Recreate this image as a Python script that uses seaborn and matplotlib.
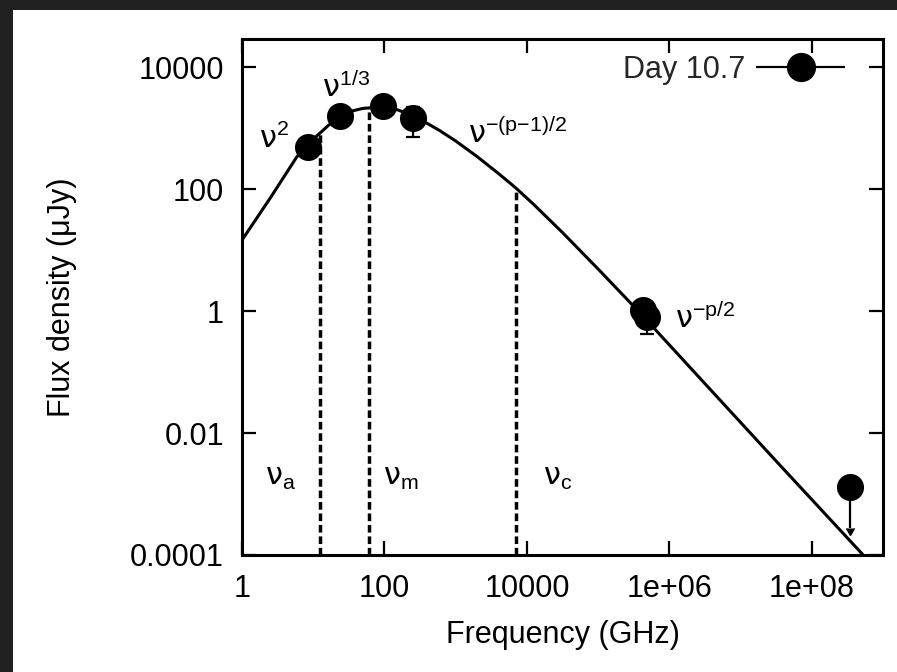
import numpy as np
import pandas as pd
import matplotlib
matplotlib.use("Agg")
import matplotlib.pyplot as plt
import seaborn as sns
from matplotlib.container import ErrorbarContainer
from matplotlib.legend_handler import HandlerErrorbar
from matplotlib.patches import Rectangle

# ---------------- data ----------------
curve_nu = [1.0, 2.51, 5.85, 8.43, 11.8, 16.3, 23.7, 34.5, 50.1, 86.1, 154, 250,
            410, 598, 1000, 1995, 3981, 6966, 12589, 32063, 1.0e5, 2.77e5,
            5.87e5, 3.16e6, 3.16e7, 5.27e8]
curve_flux = [14.6, 72.4, 335, 556, 785, 1109, 1531, 1905, 2113, 2213, 1995, 1585,
              1175, 912, 617, 343, 181, 105, 55.6, 19.1, 4.90, 1.41,
              0.550, 0.0646, 0.00347, 1.0e-4]

dot_nu = [8.43, 23.7, 95, 250, 4.2e5, 4.8e5]
dot_flux = [489, 1574, 2296, 1459, 1.04, 0.80]
dot_err = [60, 150, 200, 739, 0.1, 0.38]

ul_nu = [3.4e8]
ul_flux = [0.00129]
ul_drop = [0.00101]

break_nu = [12.4, 60.4, 6970]
break_flux = [800, 2100, 105]
break_names = ["a", "m", "c"]

xticks = [1, 100, 1e4, 1e6, 1e8]
xtick_labels = ["1", "100", "10000", "1e+06", "1e+08"]
yticks = [1e-4, 1e-2, 1, 100, 1e4]
ytick_labels = ["0.0001", "0.01", "1", "100", "10000"]

legend_label = "Day 10.7"
xlabel = "Frequency (GHz)"
ylabel = "Flux density (\u03bcJy)"

# ---------------- style ----------------
sns.set_theme(style="ticks")
plt.rcParams["font.family"] = ["Liberation Sans", "DejaVu Sans"]
plt.rcParams["mathtext.fontset"] = "dejavusans"
plt.rcParams["mathtext.default"] = "regular"
plt.rcParams["axes.unicode_minus"] = True

FS = 22
W, H = 897, 672
fig = plt.figure(figsize=(W / 100, H / 100), dpi=100, facecolor="#212121")
fig.add_artist(Rectangle((13 / W, 0), 1 - 13 / W, (H - 10) / H,
                         transform=fig.transFigure, facecolor="white",
                         edgecolor="none", zorder=-10))

ax = fig.add_axes([242 / W, (H - 555) / H, 641 / W, 516 / H])
ax.set_facecolor("white")
ax.set(xscale="log", yscale="log")

# model curve
curve = pd.DataFrame({"nu": curve_nu, "flux": curve_flux})
sns.lineplot(data=curve, x="nu", y="flux", ax=ax, color="black", lw=2.2,
             sort=False, estimator=None, zorder=2)

# break frequencies
ax.vlines(break_nu, 1e-4, break_flux, colors="black", lw=2.5,
          linestyles=[(0, (2.2, 1.1))], zorder=1)

# data points
ax.errorbar(dot_nu, dot_flux, yerr=dot_err, fmt="none", ecolor="black",
            color="black", elinewidth=1.6, capsize=4.7, capthick=1.6, zorder=3)
pts = pd.DataFrame({"nu": dot_nu + ul_nu, "flux": dot_flux + ul_flux})
sns.scatterplot(data=pts, x="nu", y="flux", ax=ax, color="black", s=380,
                linewidth=0, zorder=4, legend=False)
ax.errorbar(ul_nu, ul_flux, yerr=ul_drop, uplims=True, fmt="none",
            ecolor="black", color="black", elinewidth=1.6, capsize=3.2,
            zorder=3)

# legend proxy
proxy = ax.errorbar([], [], xerr=[], fmt="o", color="black", ms=20,
                    elinewidth=1.6, capsize=4, capthick=1.6)
leg = ax.legend([proxy], [legend_label],
                handler_map={ErrorbarContainer: HandlerErrorbar(xerr_size=1.45)},
                loc="center right", bbox_to_anchor=(0.943, 0.94),
                frameon=False, markerfirst=False, handlelength=3.0,
                handletextpad=0.3, borderpad=0, borderaxespad=0,
                fontsize=FS, numpoints=1)

# axes limits and ticks
ax.set_xlim(1, 1e9)
ax.set_ylim(1e-4, 2.9e4)
ax.set_xticks(xticks, xtick_labels)
ax.set_yticks(yticks, ytick_labels)
ax.set_xticks([], minor=True)
ax.set_yticks([], minor=True)
ax.tick_params(which="major", direction="in", length=10, width=1.6,
               top=True, right=True, labelsize=FS, colors="black")
ax.tick_params(axis="x", pad=14)
ax.tick_params(axis="y", pad=13)
for sp in ax.spines.values():
    sp.set_linewidth(2.2)
    sp.set_color("black")

ax.set_xlabel(xlabel, fontsize=FS, labelpad=11, color="black")
ax.set_ylabel(ylabel, fontsize=FS, labelpad=38, color="black")

# annotations (axes-fraction positions)
def fx(px):
    return (px - 242) / 641


def fy(py):
    return (555 - py) / 516


ann = [
    (r"$\mathrm{\nu}^{2}$", 259, 148),
    (r"$\mathrm{\nu}^{1/3}$", 322, 97),
    (r"$\mathrm{\nu}^{-(p{-}1)/2}$", 468, 143),
    (r"$\mathrm{\nu}^{-p/2}$", 675, 328),
]
for txt, px, py in ann:
    ax.text(fx(px), fy(py), txt, transform=ax.transAxes, fontsize=FS,
            ha="left", va="baseline", color="black")

for name, px in zip(break_names, [265, 383, 543]):
    ax.text(fx(px), fy(485), r"$\mathrm{\nu}_{%s}$" % name,
            transform=ax.transAxes, fontsize=FS, ha="left", va="baseline",
            color="black")

fig.savefig("out.png", dpi=100)
